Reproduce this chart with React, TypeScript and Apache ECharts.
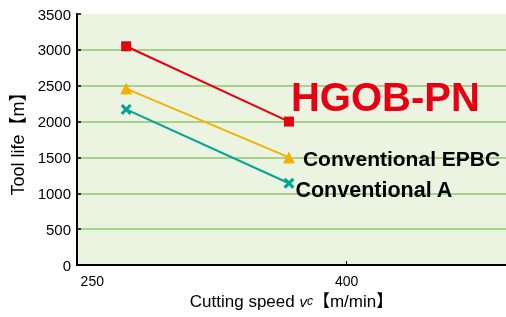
import React, { useEffect, useRef } from "react";
import * as echarts from "echarts";

const speeds = [270, 366];
const hgobLife = [3050, 2000];
const epbcLife = [2460, 1500];
const convALife = [2170, 1140];
const xTickLabels = [250, 400];
const xTickMarks = [400];

const RED = "#e60012";
const YEL = "#f6b100";
const TEAL = "#00a595";
const FONT = "'Liberation Sans', Arial, 'Noto Sans CJK JP', sans-serif";
const XSYM = "path://M2,0 L5,3 L8,0 L10,2 L7,5 L10,8 L8,10 L5,7 L2,10 L0,8 L3,5 L0,2 Z";

function pairs(ys: number[]) {
  return speeds.map((x, i) => [x, ys[i]]);
}

export default function App() {
  const ref = useRef<HTMLDivElement>(null);
  useEffect(() => {
    if (!ref.current) return;
    const chart = echarts.init(ref.current, undefined, { renderer: "svg" });
    const mkLabel = (text: string, color: string, size: number, offset: number[]) => ({
      show: true,
      position: "right",
      distance: 4,
      offset,
      formatter: text,
      color,
      fontSize: size,
      fontWeight: "bold",
      fontFamily: FONT,
    });
    const hg = pairs(hgobLife).map((p, i) =>
      i === 1 ? { value: p, label: mkLabel("HGOB-PN", RED, 40, [-7, -25]) } : { value: p }
    );
    const ep = pairs(epbcLife).map((p, i) =>
      i === 1 ? { value: p, label: mkLabel("Conventional EPBC", "#000", 21, [4, 1]) } : { value: p }
    );
    const ca = pairs(convALife).map((p, i) =>
      i === 1 ? { value: p, label: mkLabel("Conventional A", "#000", 21.5, [-3, 7]) } : { value: p }
    );
    chart.setOption({
      animation: false,
      textStyle: { fontFamily: FONT },
      grid: {
        left: 77,
        right: 0,
        top: 14,
        bottom: 52,
        show: true,
        backgroundColor: "#ebf3e1",
        borderWidth: 0,
      },
      xAxis: {
        type: "value",
        min: 241,
        max: 494,
        name: "Cutting speed {v|v}{c|c}【m/min】",
        nameLocation: "middle",
        nameGap: 24,
        nameTextStyle: {
          fontSize: 17,
          color: "#000",
          fontFamily: FONT,
          rich: {
            v: { fontSize: 15, fontStyle: "italic", color: "#000", fontFamily: FONT },
            c: { fontSize: 12, fontStyle: "italic", color: "#000", fontFamily: FONT },
          },
        },
        axisLine: { show: true, lineStyle: { color: "#000", width: 2 } },
        axisTick: {
          show: true,
          inside: true,
          length: 4,
          customValues: xTickMarks,
          lineStyle: { color: "#000", width: 1 },
        },
        axisLabel: {
          customValues: xTickLabels,
          fontSize: 14,
          color: "#000",
          margin: 9,
          fontFamily: FONT,
          formatter: (v: number) => String(v),
        },
        splitLine: { show: false },
      },
      yAxis: {
        type: "value",
        min: 0,
        max: 3500,
        interval: 500,
        name: "Tool life【m】",
        nameLocation: "middle",
        nameGap: 50,
        nameTextStyle: { fontSize: 18, color: "#000", fontFamily: FONT },
        axisLine: { show: true, lineStyle: { color: "#000", width: 2 } },
        axisTick: { show: true, inside: true, length: 4, lineStyle: { color: "#000", width: 1.5 } },
        axisLabel: {
          fontSize: 15,
          color: "#000",
          margin: 6,
          fontFamily: FONT,
          formatter: (v: number) => String(v),
        },
        splitLine: {
          show: true,
          showMinLine: false,
          showMaxLine: false,
          lineStyle: { color: "#a9d18e", width: 2 },
        },
      },
      series: [
        {
          type: "line",
          data: hg,
          symbol: "rect",
          symbolSize: 10,
          lineStyle: { color: RED, width: 2 },
          itemStyle: { color: RED },
          z: 5,
        },
        {
          type: "line",
          data: ep,
          symbol: "triangle",
          symbolSize: 12,
          lineStyle: { color: YEL, width: 2 },
          itemStyle: { color: YEL },
          z: 4,
        },
        {
          type: "line",
          data: ca,
          symbol: XSYM,
          symbolSize: 11,
          lineStyle: { color: TEAL, width: 2 },
          itemStyle: { color: TEAL },
          z: 3,
        },
      ],
    });
    return () => chart.dispose();
  }, []);
  return (
    <div
      ref={ref}
      style={{ position: "fixed", left: 0, top: 0, width: 506, height: 317 }}
    />
  );
}
